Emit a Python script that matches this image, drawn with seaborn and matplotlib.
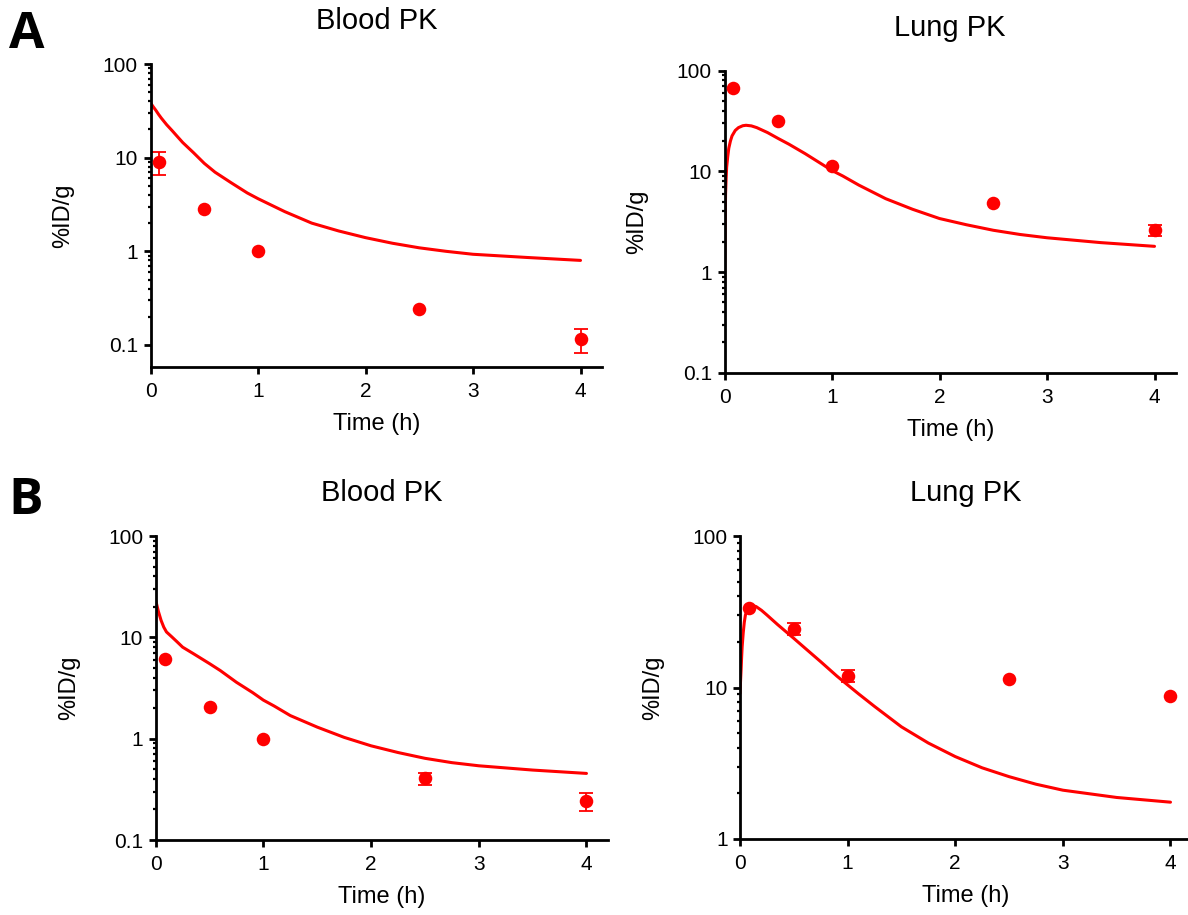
import pandas as pd
import matplotlib
matplotlib.use("Agg")
import matplotlib.pyplot as plt
import seaborn as sns
from matplotlib.ticker import FixedLocator, FixedFormatter, NullFormatter

# measured data (mean, error) at the sampling times
t_obs = [0.083, 0.5, 1, 2.5, 4]
a_blood_mean = [9.0, 2.8, 1.0, 0.24, 0.115]
a_blood_err = [2.5, 0, 0, 0, 0.032]
a_lung_mean = [68, 32, 11.3, 4.8, 2.63]
a_lung_err = [0, 0, 0, 0, 0.33]
b_blood_mean = [6.1, 2.06, 1.0, 0.405, 0.24]
b_blood_err = [0, 0, 0, 0.058, 0.048]
b_lung_mean = [33.6, 24.3, 12.0, 11.3, 8.8]
b_lung_err = [0, 2.2, 1.1, 0, 0]

# model curves
a_blood_t = [0, 0.025, 0.05, 0.075, 0.1, 0.15, 0.2, 0.25, 0.3, 0.35, 0.4, 0.5, 0.6, 0.75, 0.9, 1,
             1.25, 1.5, 1.75, 2, 2.25, 2.5, 2.75, 3, 3.5, 4]
a_blood_fit = [38.5, 35, 32, 29, 26.5, 22.5, 19.5, 16.8, 14.5, 12.8, 11.3, 8.7, 7.0, 5.4, 4.2, 3.65,
               2.65, 2.0, 1.65, 1.4, 1.22, 1.09, 1.0, 0.93, 0.86, 0.80]

a_lung_t = [0, 0.003, 0.006, 0.01, 0.015, 0.02, 0.03, 0.04, 0.055, 0.07, 0.1, 0.13, 0.17, 0.2, 0.25,
            0.3, 0.4, 0.5, 0.6, 0.75, 0.9, 1, 1.1, 1.25, 1.5, 1.75, 2, 2.25, 2.5, 2.75, 3, 3.5, 4]
a_lung_fit = [0.6, 1.5, 3, 6, 8.5, 11, 14, 17, 20, 22.5, 25.5, 27.2, 28.4, 28.7, 28.3,
              27.2, 24.3, 21.2, 18.6, 15, 11.9, 10.2, 9.0, 7.3, 5.35, 4.2, 3.4, 2.95, 2.6, 2.36, 2.19, 1.96, 1.80]

b_blood_t = [0, 0.025, 0.05, 0.075, 0.1, 0.15, 0.2, 0.25, 0.35, 0.5, 0.6, 0.75, 0.9, 1, 1.1, 1.25,
             1.5, 1.75, 2, 2.25, 2.5, 2.75, 3, 3.5, 4]
b_blood_fit = [23.2, 18, 14.7, 12.6, 11.3, 10.1, 9.0, 8.0, 6.9, 5.5, 4.7, 3.6, 2.85, 2.4, 2.1, 1.69,
               1.3, 1.03, 0.85, 0.73, 0.64, 0.58, 0.54, 0.49, 0.454]

b_lung_t = [0, 0.005, 0.01, 0.015, 0.02, 0.03, 0.04, 0.05, 0.065, 0.08, 0.1, 0.125, 0.15, 0.2, 0.25,
            0.35, 0.5, 0.6, 0.75, 0.9, 1, 1.1, 1.25, 1.5, 1.75, 2, 2.25, 2.5, 2.75, 3, 3.5, 4]
b_lung_fit = [9.15, 11, 13, 15.8, 18.6, 23, 27, 30, 32.5, 33.8, 34.5, 34.6, 34.2, 32.3, 30.1,
              26, 21.1, 18.3, 14.8, 11.9, 10.4, 9.1, 7.5, 5.5, 4.3, 3.5, 2.95, 2.58, 2.3, 2.1, 1.88, 1.75]

sns.set_theme(style="ticks")
plt.rcParams["font.family"] = ["Liberation Sans", "DejaVu Sans"]
plt.rcParams.update({"text.color": "black", "axes.labelcolor": "black",
                     "xtick.color": "black", "ytick.color": "black"})

W, H = 1188, 915
fig = plt.figure(figsize=(W / 100, H / 100), dpi=100)

RED = "#ff0000"

# (left, top, right, bottom) in pixels, title, curve, points, ylim
panels = [
    ((150.5, 64, 602, 367), "Blood PK", a_blood_t, a_blood_fit, a_blood_mean, a_blood_err, (0.0582, 100)),
    ((724.5, 70.7, 1176, 372.7), "Lung PK", a_lung_t, a_lung_fit, a_lung_mean, a_lung_err, (0.1, 100)),
    ((155.7, 536, 608, 840), "Blood PK", b_blood_t, b_blood_fit, b_blood_mean, b_blood_err, (0.1, 100)),
    ((740, 536, 1192, 839), "Lung PK", b_lung_t, b_lung_fit, b_lung_mean, b_lung_err, (1, 100)),
]

for (l, t, r, b), title, ct, cy, mean, err, ylim in panels:
    w, h = r - l, b - t
    ax = fig.add_axes([l / W, 1 - b / H, w / W, h / H])

    curve = pd.DataFrame({"time": ct, "value": cy})
    pts = pd.DataFrame({"time": t_obs, "value": mean, "err": err})

    sns.lineplot(data=curve, x="time", y="value", ax=ax, color=RED, lw=2.2)
    eb = pts[pts["err"] > 0]
    ax.errorbar(eb["time"], eb["value"], yerr=eb["err"], fmt="none",
                ecolor=RED, elinewidth=1.3, capsize=5, capthick=1.3)
    sns.scatterplot(data=pts, x="time", y="value", ax=ax, color=RED,
                    s=95, edgecolor=RED, linewidth=0, zorder=5)

    ax.set_yscale("log")
    ax.set_xlim(0, 4.2)
    ax.set_ylim(*ylim)
    majors = [v for v in [0.1, 1, 10, 100] if v >= ylim[0] * 0.999]
    ax.yaxis.set_major_locator(FixedLocator(majors))
    ax.yaxis.set_major_formatter(FixedFormatter(["%g" % v for v in majors]))
    minors = [m * d for d in [0.1, 1, 10] for m in range(2, 10) if m * d > majors[0]]
    ax.yaxis.set_minor_locator(FixedLocator(minors))
    ax.yaxis.set_minor_formatter(NullFormatter())
    ax.set_xticks([0, 1, 2, 3, 4])
    ax.set_xticklabels(["0", "1", "2", "3", "4"])

    sns.despine(ax=ax)
    for s in ["left", "bottom"]:
        ax.spines[s].set_linewidth(2)
        ax.spines[s].set_color("black")
    ax.tick_params(which="major", length=5, width=2, labelsize=15, pad=4)
    ax.tick_params(axis="x", which="major", pad=6)
    ax.tick_params(which="minor", length=2.5, width=1.6)
    ax.tick_params(axis="x", which="minor", length=0)

    ax.set_xlabel("Time (h)", fontsize=17, va="center")
    ax.xaxis.set_label_coords(0.5, -57 / h)
    ax.set_ylabel("%ID/g", fontsize=17, va="center")
    ax.yaxis.set_label_coords(-87 / w, 0.5)
    ax.set_title(title, fontsize=21, y=1 + 43 / h, va="center", pad=0)

fig.text(27 / W, 1 - 35 / H, "A", fontsize=37, weight="bold", ha="center", va="center",
         family=["Open Sans", "DejaVu Sans"])
fig.text(26 / W, 1 - 501 / H, "B", fontsize=37, weight="bold", ha="center", va="center",
         family=["Open Sans", "DejaVu Sans"])

fig.savefig("out.png", dpi=100)
